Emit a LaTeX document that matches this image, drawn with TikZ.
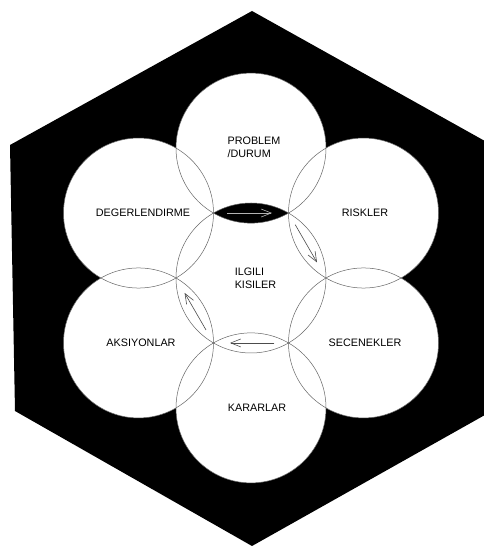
\documentclass[tikz,border=0pt]{standalone}
\usepackage{fontspec}
\setmainfont{Liberation Sans}
\usetikzlibrary{arrows.meta, calc}

\tikzset{
  rim/.style={draw=black!60, line width=0.5pt},
  flow/.style={-{Straight Barb[length=10pt,width=8pt]}, line width=0.6pt, draw=black!70},
  petaltext/.style={font=\fontsize{10.8}{13}\selectfont, align=left, inner sep=0pt}
}

\begin{document}
\begin{tikzpicture}[x=1pt, y=1pt]
\useasboundingbox (0,0) rectangle (483,548);
% black hexagon
\fill[black] (252,537) -- (10,403) -- (15,137) -- (252,2)
  -- (492,137) -- (492,403) -- cycle;
% centres of the seven circles
\coordinate (c) at (251,270);
\foreach \a/\n in {90/top, 30/ur, -30/lr, -90/bot, -150/ll, 150/ul}{
  \coordinate (\n) at ($(c)+(\a:129.9)$);
}
% meeting points on the middle circle
\foreach \a in {0,60,120,180,240,300}{
  \coordinate (q\a) at ($(c)+(\a:75)$);
}
% white discs
\foreach \n in {c,top,ur,lr,bot,ll,ul}{
  \fill[white] (\n) circle (75);
}
% black lens on top
\begin{scope}
  \clip (c) circle (75);
  \fill[black] (top) circle (75);
\end{scope}
% outlines
\foreach \n in {c,top,ur,lr,bot,ll,ul}{
  \draw[rim] (\n) circle (75);
}
% arrows in the lenses
\draw[flow, draw=gray!60] ($(q120)!0.18!(q60)$) -- ($(q120)!0.78!(q60)$);
\draw[flow] ($(q60)!0.18!(q0)$) -- ($(q60)!0.76!(q0)$);
\draw[flow] ($(q300)!0.19!(q240)$) -- ($(q300)!0.78!(q240)$);
\draw[flow] ($(q240)!0.2!(q180)$) -- ($(q240)!0.77!(q180)$);
% labels
\node[petaltext] (problem) at ($(top)+(3,0.5)$) {PROBLEM\\/DURUM};
\node[petaltext] (riskler) at ($(ur)+(1.5,0)$) {RISKLER};
\node[petaltext] (secenekler) at ($(lr)+(1.5,0)$) {SECENEKLER};
\node[petaltext] (kararlar) at ($(bot)+(6,0)$) {KARARLAR};
\node[petaltext] (aksiyonlar) at ($(ll)+(2.5,0)$) {AKSIYONLAR};
\node[petaltext] (degerlendirme) at ($(ul)+(4.5,0)$) {DEGERLENDIRME};
\node[petaltext] (ilgili) at ($(c)+(4.5,-0.5)$) {ILGILI\\KISILER};
\end{tikzpicture}
\end{document}
